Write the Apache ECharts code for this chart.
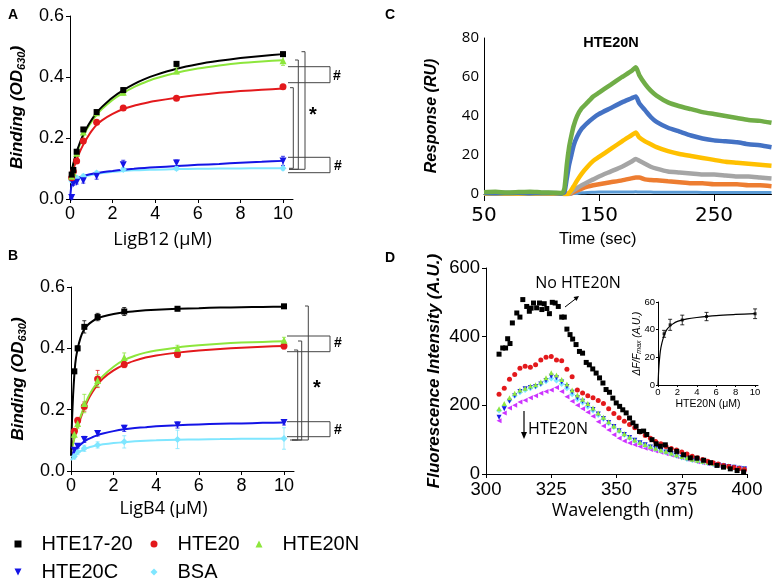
<!DOCTYPE html>
<html><head><meta charset="utf-8">
<script src="https://cdn.jsdelivr.net/npm/echarts@6/dist/echarts.min.js"></script>
<style>html,body{margin:0;padding:0;background:#fff}#c{width:779px;height:584px}</style>
</head><body><div id="c"></div>
<script>
// ---------- Panels A & B (binding ELISA) ----------
const seriesNames = ['HTE17-20', 'HTE20', 'HTE20N', 'HTE20C', 'BSA'];
const concPts = [0.078, 0.156, 0.3125, 0.625, 1.25, 2.5, 5, 10];
const A_HTE1720 = [0.08, 0.095, 0.155, 0.228, 0.285, 0.357, 0.443, 0.475];
const A_HTE20   = [0.07, 0.09, 0.125, 0.19, 0.252, 0.298, 0.33, 0.368];
const A_HTE20N  = [0.075, 0.085, 0.15, 0.22, 0.283, 0.35, 0.42, 0.453];
const A_HTE20C  = [0.005, 0.05, 0.055, 0.06, 0.075, 0.112, 0.118, 0.125];
const A_BSA     = [0.06, 0.065, 0.07, 0.075, 0.085, 0.097, 0.1, 0.101];
const A_err = [
  [0.005, 0.005, 0.005, 0.006, 0.006, 0.008, 0.008, 0.006],
  [0.005, 0.005, 0.006, 0.006, 0.006, 0.006, 0.006, 0.006],
  [0.005, 0.005, 0.006, 0.006, 0.008, 0.01, 0.01, 0.015],
  [0.005, 0.005, 0.006, 0.008, 0.01, 0.015, 0.01, 0.015],
  [0.005, 0.005, 0.005, 0.006, 0.006, 0.006, 0.006, 0.006]
];
const B_HTE1720 = [null, 0.325, 0.40, 0.47, 0.502, 0.52, 0.529, 0.537];
const B_HTE20   = [null, 0.13, 0.165, 0.21, 0.30, 0.347, 0.38, 0.408];
const B_HTE20N  = [null, 0.12, 0.155, 0.22, 0.295, 0.37, 0.40, 0.426];
const B_HTE20C  = [null, 0.068, 0.081, 0.103, 0.122, 0.139, 0.15, 0.158];
const B_BSA     = [null, 0.047, 0.063, 0.074, 0.085, 0.095, 0.103, 0.106];
const B_err = [
  [0, 0.005, 0.008, 0.02, 0.012, 0.013, 0.006, 0.006],
  [0, 0.008, 0.01, 0.015, 0.028, 0.01, 0.01, 0.01],
  [0, 0.01, 0.015, 0.03, 0.02, 0.015, 0.01, 0.01],
  [0, 0.005, 0.006, 0.01, 0.008, 0.01, 0.01, 0.008],
  [0, 0.008, 0.01, 0.01, 0.01, 0.02, 0.03, 0.035]
];
// fitted curves
const fitX = [0, 0.05, 0.1, 0.2, 0.3, 0.45, 0.6, 0.8, 1, 1.25, 1.5, 2, 2.5, 3, 3.5, 4, 5, 6, 7, 8, 9, 10];
const A_fit = [
  [0.07, 0.085, 0.10, 0.128, 0.152, 0.182, 0.208, 0.235, 0.258, 0.283, 0.302, 0.333, 0.357, 0.377, 0.393, 0.406, 0.427, 0.442, 0.453, 0.462, 0.469, 0.475],
  [0.06, 0.072, 0.085, 0.107, 0.127, 0.153, 0.175, 0.2, 0.222, 0.243, 0.258, 0.279, 0.295, 0.306, 0.314, 0.321, 0.332, 0.341, 0.348, 0.354, 0.358, 0.362],
  [0.07, 0.084, 0.098, 0.125, 0.148, 0.177, 0.202, 0.23, 0.252, 0.276, 0.295, 0.325, 0.348, 0.367, 0.382, 0.395, 0.414, 0.428, 0.438, 0.446, 0.451, 0.455],
  [0.0, 0.035, 0.05, 0.06, 0.066, 0.071, 0.075, 0.079, 0.082, 0.085, 0.088, 0.092, 0.096, 0.099, 0.102, 0.104, 0.108, 0.112, 0.115, 0.119, 0.122, 0.125],
  [0.055, 0.056, 0.058, 0.061, 0.064, 0.068, 0.072, 0.076, 0.079, 0.082, 0.085, 0.089, 0.092, 0.094, 0.095, 0.096, 0.098, 0.099, 0.1, 0.1, 0.101, 0.101]
];
const B_fit = [
  [0.05, 0.17, 0.25, 0.35, 0.395, 0.435, 0.46, 0.477, 0.488, 0.498, 0.504, 0.512, 0.518, 0.521, 0.524, 0.526, 0.529, 0.531, 0.533, 0.534, 0.535, 0.536],
  [0.07, 0.082, 0.094, 0.118, 0.14, 0.172, 0.2, 0.232, 0.257, 0.282, 0.302, 0.328, 0.347, 0.36, 0.37, 0.377, 0.386, 0.393, 0.398, 0.402, 0.405, 0.408],
  [0.06, 0.075, 0.09, 0.118, 0.143, 0.178, 0.207, 0.24, 0.265, 0.29, 0.31, 0.34, 0.362, 0.376, 0.386, 0.393, 0.403, 0.41, 0.415, 0.419, 0.421, 0.423],
  [0.05, 0.055, 0.06, 0.068, 0.076, 0.086, 0.095, 0.104, 0.11, 0.117, 0.122, 0.13, 0.136, 0.14, 0.143, 0.146, 0.149, 0.152, 0.154, 0.155, 0.157, 0.158],
  [0.035, 0.04, 0.045, 0.052, 0.058, 0.065, 0.071, 0.076, 0.08, 0.084, 0.087, 0.091, 0.094, 0.097, 0.099, 0.1, 0.102, 0.103, 0.104, 0.105, 0.105, 0.106]
];
const abXTicks = [0, 2, 4, 6, 8, 10];

// ---------- Panel C (SPR sensorgram, HTE20N) ----------
const cTime = [50,60,70,80,90,100,110,118,120,122,124,126,128,131,135,140,145,150,160,170,178,182,185,190,195,200,210,220,230,240,250,260,270,280,290,300];
const cGreen  = [0.9,1.1,0.8,1.0,1.2,0.8,0.7,0.5,3,15,24,30,35,40,44,47,50,52,56,60,63,65,61,56.5,53,50.5,47,45,43.5,42,41,40,39,38,37.5,36.5];
const cBlue   = [0.5,0.4,0.5,0.6,0.4,0.5,0.5,0.3,1,8,15,20,25,29.5,33.5,36.5,39,41,44,47,49,50,46.5,43,39.5,37,34,32,30,28.5,27.5,27,26.5,25.5,25,24];
const cYellow = [0.2,0.3,0.2,0.3,0.2,0.4,0.3,0.2,0,0,0.5,2,4,7,10.5,14,17,19,23,27,30,31.5,29,27,25.5,24,22,20.5,19.5,18.5,17.5,16.5,16,15.5,15,14.5];
const cGray   = [0.2,0.2,0.3,0.2,0.3,0.2,0.2,0.2,0,0,0,1,2,3,4.5,6,7.5,9,11.5,14,16.5,18,17,15.5,14,13,11.5,11,10.5,10,10,9.5,9,9,8.5,8];
const cOrange = [0.1,0.1,0.1,0.1,0.1,0.1,0.1,0.1,0,0,0,0.3,1,1.8,2.8,3.8,4.5,5,6,7,8,8.5,8.5,7.5,7.2,7,6.5,6,5.5,5.5,5,5,5,4.5,4.5,4];
const cLtBlue = [0.2,0.2,0.2,0.2,0.2,0.2,0.2,0.2,0,0,0,0,0.2,0.3,0.6,0.8,0.9,1,1,1,1,1.1,1,1,1,0.9,0.9,0.9,0.9,0.8,0.8,0.8,0.8,0.8,0.8,0.8];
const cXTicks = [50, 150, 250];

// ---------- Panel D (fluorescence spectra) ----------
const dBlackWl = [305,306.4,307.5,308.3,309.2,310.1,311.8,313,314.1,315.6,316.6,317.3,318.2,319.4,320.5,321.4,322.3,323.3,324.3,325.4,326.5,327.7,329,330,331,332.2,333.2,334.5,335.8,337,338.4,339.6,340.9,342.2,343.5,344.8,346,347.3,348.6,349.9,351.2,352.4,353.7,355,356.3,357.5,358.8,360.4,361.6,363.6,365.2,366.8,368.7,370.6,373.1,375.7,378.3,380.8,383.4,386,388.5,391,393.6,396.2,398.7];
const dBlack = [349,367,367,394,380,440,469,457,508,488,474,483,498,484,498,479,496,482,467,500,498,488,457,457,422,406,393,377,357,352,325,318,306,294,280,265,246,238,221,207,197,187,178,163,149,139,124,125,115,100,88,81,85,71,66,56,47,46,40,33,25,20,15,10,6];
const dWl = [305,307,309,311,313,315,317,319,321,323,325,327,329,331,333,335,337,339,341,343,345,347,349,351,353,355,357,359,361,363,365,367,369,371,373,375,377,379,381,383,385,387,389,391,393,395,397,399];
const dRed     = [232,250,276,290,308,314,311,318,332,340,342,332,330,305,283,245,236,228,222,214,205,190,176,164,154,144,135,122,112,104,95,88,80,74,70,64,58,52,47,42,37,33,29,25,22,19,16,13];
const dGreen   = [190,205,222,235,245,250,256,260,268,280,295,288,275,262,245,230,218,205,192,178,165,152,140,128,117,108,99,92,86,80,75,70,66,61,56,51,47,43,40,37,34,31,28,26,23,21,19,17];
const dBlue    = [165,190,212,228,240,248,252,255,262,272,285,280,268,255,238,222,212,200,188,175,162,150,138,126,115,106,98,91,85,79,74,69,64,59,54,49,45,41,38,35,32,29,27,24,22,20,17,15];
const dCyan    = [185,198,215,228,238,245,250,255,262,270,278,272,262,250,232,218,208,196,185,172,160,148,137,125,114,105,97,90,84,78,73,68,63,58,53,48,44,41,38,35,32,29,26,24,22,19,17,15];
const dMagenta = [155,178,192,200,210,215,222,228,235,240,245,252,240,225,212,200,190,180,168,152,140,128,114,104,96,90,85,80,75,71,67,63,59,55,51,47,43,40,36,33,30,28,25,23,20,18,16,14];

// inset: ΔF/Fmax vs HTE20N
const insConc = [0.625, 1.25, 2.5, 5, 10];
const insVal  = [37, 43.5, 47, 49.5, 51.5];
const insErr  = [2.5, 4, 3.5, 3, 3.5];
const insFitX = [0, 0.05, 0.1, 0.2, 0.3, 0.5, 0.75, 1, 1.5, 2, 3, 4, 6, 8, 10];
const insFitY = [0, 8, 14, 22, 27, 33, 38, 41, 44, 46, 47.8, 48.8, 50.2, 51, 51.6];
const insXTicks = [0, 2, 4, 6, 8, 10];

// ---------- styles ----------
const abColors = ['#000000', '#e3191c', '#8de63c', '#1414e6', '#7fe6ff'];
const DOWN = 'path://M0,0L10,0L5,10Z';
const LEFT = 'path://M10,0L10,10L0,5Z';
const abSymbols = ['rect', 'circle', 'triangle', DOWN, 'diamond'];
const abSizes = [6, 7, 7, 7, 7];
const cColors = ['#5B9BD5', '#ED7D31', '#A5A5A5', '#FFC000', '#4472C4', '#70AD47'];

const pairs = (xs, ys) => xs.map((x, i) => [x, ys[i]]).filter(p => p[1] !== null && p[1] !== undefined);
const triples = (xs, ys, es) => xs.map((x, i) => [x, ys[i], es[i]]).filter(p => p[1] !== null && p[1] !== undefined);

function errRender(color, cap) {
  return function (params, api) {
    const x = api.value(0), y = api.value(1), e = api.value(2);
    const t = api.coord([x, y + e]), b = api.coord([x, y - e]);
    const st = { stroke: color, lineWidth: 0.8 };
    return { type: 'group', children: [
      { type: 'line', shape: { x1: t[0], y1: t[1], x2: b[0], y2: b[1] }, style: st },
      { type: 'line', shape: { x1: t[0] - cap, y1: t[1], x2: t[0] + cap, y2: t[1] }, style: st },
      { type: 'line', shape: { x1: b[0] - cap, y1: b[1], x2: b[0] + cap, y2: b[1] }, style: st }
    ]};
  };
}

const FONT = 'Liberation Sans';
const axLine = { show: true, onZero: false, lineStyle: { color: '#000', width: 1 } };

function xAxisAB(grid, name, gap) {
  return {
    type: 'value', gridIndex: grid, min: 0, max: 10.47,
    axisLine: axLine,
    axisTick: { show: true, length: 4, lineStyle: { color: '#000' }, customValues: abXTicks },
    axisLabel: { color: '#000', fontFamily: FONT, fontSize: 18, margin: 6, customValues: abXTicks },
    splitLine: { show: false },
    name: name, nameLocation: 'middle', nameGap: gap, nameMoveOverlap: false,
    nameTextStyle: { color: '#000', fontFamily: 'Open Sans', fontSize: 18, padding: [0, 38, 0, 0] }
  };
}
function yAxisAB(grid) {
  return {
    type: 'value', gridIndex: grid, min: 0, max: 0.6, interval: 0.2,
    axisLine: axLine,
    axisTick: { show: true, length: 4, lineStyle: { color: '#000' } },
    axisLabel: { color: '#000', fontFamily: FONT, fontSize: 18, margin: 6, formatter: v => v.toFixed(1) },
    splitLine: { show: false },
    name: '{t|Binding (OD}{s|630}{t|)}', nameLocation: 'middle', nameGap: 43, nameRotate: 90, nameMoveOverlap: false,
    nameTextStyle: { rich: {
      t: { fontFamily: FONT, fontSize: 17, fontWeight: 'bold', fontStyle: 'italic', color: '#000', lineHeight: 20, verticalAlign: 'middle' },
      s: { fontFamily: FONT, fontSize: 11, fontWeight: 'bold', fontStyle: 'italic', color: '#000', lineHeight: 12, verticalAlign: 'bottom' }
    } }
  };
}

const series = [];
[[0, [A_HTE1720, A_HTE20, A_HTE20N, A_HTE20C, A_BSA], A_fit, A_err],
 [1, [B_HTE1720, B_HTE20, B_HTE20N, B_HTE20C, B_BSA], B_fit, B_err]].forEach(([g, pts, fits, errs]) => {
  [4, 3, 1, 2, 0].forEach(i => {
    series.push({ type: 'line', xAxisIndex: g, yAxisIndex: g, data: pairs(fitX, fits[i]), smooth: 0.15,
      showSymbol: false, lineStyle: { color: abColors[i], width: 2 }, silent: true, z: 2 });
    series.push({ type: 'custom', xAxisIndex: g, yAxisIndex: g, data: triples(concPts, pts[i], errs[i]),
      renderItem: errRender(abColors[i], 2), silent: true, z: 3 });
    series.push({ type: 'scatter', name: seriesNames[i], xAxisIndex: g, yAxisIndex: g, data: pairs(concPts, pts[i]),
      symbol: abSymbols[i], symbolSize: abSizes[i], itemStyle: { color: abColors[i], opacity: 1 }, z: 4 });
  });
});

// Panel C
[cLtBlue, cOrange, cGray, cYellow, cBlue, cGreen].forEach((arr, i) => {
  series.push({ type: 'line', xAxisIndex: 2, yAxisIndex: 2, data: pairs(cTime, arr), smooth: 0.2,
    showSymbol: false, lineStyle: { color: cColors[i], width: i === 0 ? 3 : 4.5 }, silent: true });
});

// Panel D
const dSets = [
  [dWl, dMagenta, '#cc33ff', LEFT, 5],
  [dWl, dCyan, '#80eaff', 'diamond', 6],
  [dWl, dBlue, '#1a1ae6', DOWN, 5],
  [dWl, dGreen, '#8fe640', 'triangle', 5],
  [dWl, dRed, '#e3191c', 'circle', 5],
  [dBlackWl, dBlack, '#000000', 'rect', 5]
];
dSets.forEach(([xs, ys, col, sym, sz]) => {
  series.push({ type: 'scatter', xAxisIndex: 3, yAxisIndex: 3, data: pairs(xs, ys), symbol: sym, symbolSize: sz,
    itemStyle: { color: col, opacity: 1 }, silent: true });
});
// inset
series.push({ type: 'line', xAxisIndex: 4, yAxisIndex: 4, data: pairs(insFitX, insFitY), smooth: 0.3,
  showSymbol: false, lineStyle: { color: '#000', width: 1.2 }, silent: true });
series.push({ type: 'custom', xAxisIndex: 4, yAxisIndex: 4, data: triples(insConc, insVal, insErr), renderItem: errRender('#000', 2), silent: true });
series.push({ type: 'scatter', xAxisIndex: 4, yAxisIndex: 4, data: pairs(insConc, insVal), symbol: 'rect', symbolSize: 3,
  itemStyle: { color: '#000' }, silent: true });

// legends (one per entry, laid out as in the figure)
const legendIcons = ['rect', 'circle', 'triangle', DOWN, 'diamond'];
const legendPos = [[14.5, 534], [150.5, 534], [255.5, 534], [14.5, 562], [150.5, 562]];
const legends = seriesNames.map((n, i) => ({
  data: [{ name: n, icon: legendIcons[i] }], left: legendPos[i][0], top: legendPos[i][1],
  itemWidth: 7, itemHeight: 7, padding: 0, selectedMode: false,
  textStyle: { fontSize: 20, fontFamily: FONT, color: '#000', padding: [0, 0, 0, 15] }
}));

// annotations (brackets, labels, arrows)
const brk = (pts) => ({ type: 'polyline', shape: { points: pts }, style: { stroke: '#444', lineWidth: 1, fill: null }, silent: true });
const txt = (x, y, text, size, weight, family, style) => ({ type: 'text', x: x, y: y, silent: true,
  style: { text: text, fontSize: size, fontWeight: weight || 'normal', fontFamily: family || FONT, fontStyle: style || 'normal',
    fill: '#000', align: 'center', verticalAlign: 'middle' } });
const graphics = [
  txt(13, 15, 'A', 14, 'bold'), txt(13, 256, 'B', 14, 'bold'), txt(390, 15, 'C', 14, 'bold'), txt(390, 258, 'D', 14, 'bold'),
  // panel A brackets
  brk([[288, 66.7], [330, 66.7], [330, 82.7], [288, 82.7]]),
  brk([[288, 157.3], [330, 157.3], [330, 172.7], [288, 172.7]]),
  brk([[301.5, 51.7], [305, 51.7], [305, 169.3], [289, 169.3]]),
  brk([[295, 60], [298.3, 60], [298.3, 169.3], [289, 169.3]]),
  brk([[290, 87.7], [293.3, 87.7], [293.3, 168.3], [289, 168.3]]),
  txt(337, 76, '#', 14, 'bold'), txt(338, 166, '#', 14, 'bold'), txt(313, 115, '*', 20, 'bold'),
  // panel B brackets
  brk([[287, 336], [330, 336], [330, 351.7], [287, 351.7]]),
  brk([[287, 421.7], [330, 421.7], [330, 436.7], [287, 436.7]]),
  brk([[305, 306], [308.3, 306], [308.3, 440], [292, 440]]),
  brk([[298, 341], [301.7, 341], [301.7, 440], [292, 440]]),
  brk([[294, 350], [297.7, 350], [297.7, 440], [290, 440]]),
  txt(338, 343, '#', 14, 'bold'), txt(338, 430, '#', 14, 'bold'), txt(317, 388, '*', 20, 'bold'),
  // panel C title
  txt(611, 43, 'HTE20N', 14.5, 'bold'),
  // panel D annotations
  txt(578, 283, 'No HTE20N', 16, 'normal', 'Open Sans'),
  { type: 'line', shape: { x1: 565, y1: 307, x2: 576, y2: 298.5 }, style: { stroke: '#000', lineWidth: 1 }, silent: true },
  { type: 'polygon', shape: { points: [[579, 296], [576.5, 301], [573.5, 297]] }, style: { fill: '#000' }, silent: true },
  txt(558, 429, 'HTE20N', 16, 'normal', 'Open Sans'),
  { type: 'line', shape: { x1: 524, y1: 411, x2: 524, y2: 434 }, style: { stroke: '#000', lineWidth: 1.2 }, silent: true },
  { type: 'polygon', shape: { points: [[521, 432], [527, 432], [524, 439]] }, style: { fill: '#000' }, silent: true }
];

const option = {
  animation: false,
  backgroundColor: '#fff',
  grid: [
    { left: 70, top: 16, width: 223, height: 183, outerBoundsMode: 'none' },
    { left: 71, top: 287, width: 223, height: 184, outerBoundsMode: 'none' },
    { left: 484, top: 38, width: 287.5, height: 156, outerBoundsMode: 'none' },
    { left: 486, top: 268, width: 261, height: 206, outerBoundsMode: 'none' },
    { left: 658, top: 302, width: 100, height: 83, outerBoundsMode: 'none' }
  ],
  xAxis: [
    xAxisAB(0, 'LigB12 (μM)', 32),
    xAxisAB(1, 'LigB4 (μM)', 29),
    { type: 'value', gridIndex: 2, min: 50, max: 300,
      axisLine: axLine,
      axisTick: { show: true, length: 7, lineStyle: { color: '#000' }, customValues: cXTicks },
      axisLabel: { color: '#000', fontFamily: 'DejaVu Sans', fontSize: 20, margin: 12, customValues: cXTicks },
      splitLine: { show: false },
      name: 'Time (sec)', nameLocation: 'middle', nameGap: 37, nameMoveOverlap: false,
      nameTextStyle: { color: '#000', fontFamily: FONT, fontSize: 16.5, padding: [0, 60, 0, 0] } },
    { type: 'value', gridIndex: 3, min: 300, max: 400, interval: 25,
      axisLine: axLine,
      axisTick: { show: true, length: 4, lineStyle: { color: '#000' } },
      axisLabel: { color: '#000', fontFamily: FONT, fontSize: 18.5, margin: 6 },
      splitLine: { show: false },
      name: 'Wavelength (nm)', nameLocation: 'middle', nameGap: 28, nameMoveOverlap: false,
      nameTextStyle: { color: '#000', fontFamily: 'Open Sans', fontSize: 18, padding: [0, 0, 0, 12] } },
    { type: 'value', gridIndex: 4, min: 0, max: 10.3,
      axisLine: axLine,
      axisTick: { show: true, length: 2, lineStyle: { color: '#000' }, customValues: insXTicks },
      axisLabel: { color: '#000', fontFamily: FONT, fontSize: 9.5, margin: 2, customValues: insXTicks },
      splitLine: { show: false },
      name: 'HTE20N (μM)', nameLocation: 'middle', nameGap: 14, nameMoveOverlap: false,
      nameTextStyle: { color: '#000', fontFamily: FONT, fontSize: 10.5 } }
  ],
  yAxis: [
    yAxisAB(0),
    yAxisAB(1),
    { type: 'value', gridIndex: 2, min: 0, max: 80, interval: 20,
      axisLine: axLine, axisTick: { show: false },
      axisLabel: { color: '#000', fontFamily: 'Open Sans', fontSize: 15, margin: 5 },
      splitLine: { show: false },
      name: 'Response (RU)', nameLocation: 'middle', nameGap: 44, nameRotate: 90, nameMoveOverlap: false,
      nameTextStyle: { color: '#000', fontFamily: FONT, fontSize: 16, fontWeight: 'bold', fontStyle: 'italic' } },
    { type: 'value', gridIndex: 3, min: 0, max: 600, interval: 200,
      axisLine: axLine, axisTick: { show: true, length: 4, lineStyle: { color: '#000' } },
      axisLabel: { color: '#000', fontFamily: FONT, fontSize: 18.5, margin: 6 },
      splitLine: { show: false },
      name: 'Fluorescence Intensity (A.U.)', nameLocation: 'middle', nameGap: 43, nameRotate: 90, nameMoveOverlap: false,
      nameTextStyle: { color: '#000', fontFamily: FONT, fontSize: 17, fontWeight: 'bold', fontStyle: 'italic' } },
    { type: 'value', gridIndex: 4, min: 0, max: 60, interval: 20,
      axisLine: axLine, axisTick: { show: true, length: 2, lineStyle: { color: '#000' } },
      axisLabel: { color: '#000', fontFamily: FONT, fontSize: 9.5, margin: 3 },
      splitLine: { show: false },
      name: '{t|ΔF/F}{s|max}{t| (A.U.)}', nameLocation: 'middle', nameGap: 15, nameRotate: 90, nameMoveOverlap: false,
      nameTextStyle: { rich: {
        t: { fontFamily: FONT, fontSize: 10, fontStyle: 'italic', color: '#000', lineHeight: 12, verticalAlign: 'middle' },
        s: { fontFamily: FONT, fontSize: 7, fontStyle: 'italic', color: '#000', lineHeight: 8, verticalAlign: 'bottom' }
      } } }
  ],
  legend: legends,
  series: series,
  graphic: graphics
};
const chart = echarts.init(document.getElementById('c'), null, { renderer: 'canvas' });
chart.setOption(option);
</script>
</body></html>
